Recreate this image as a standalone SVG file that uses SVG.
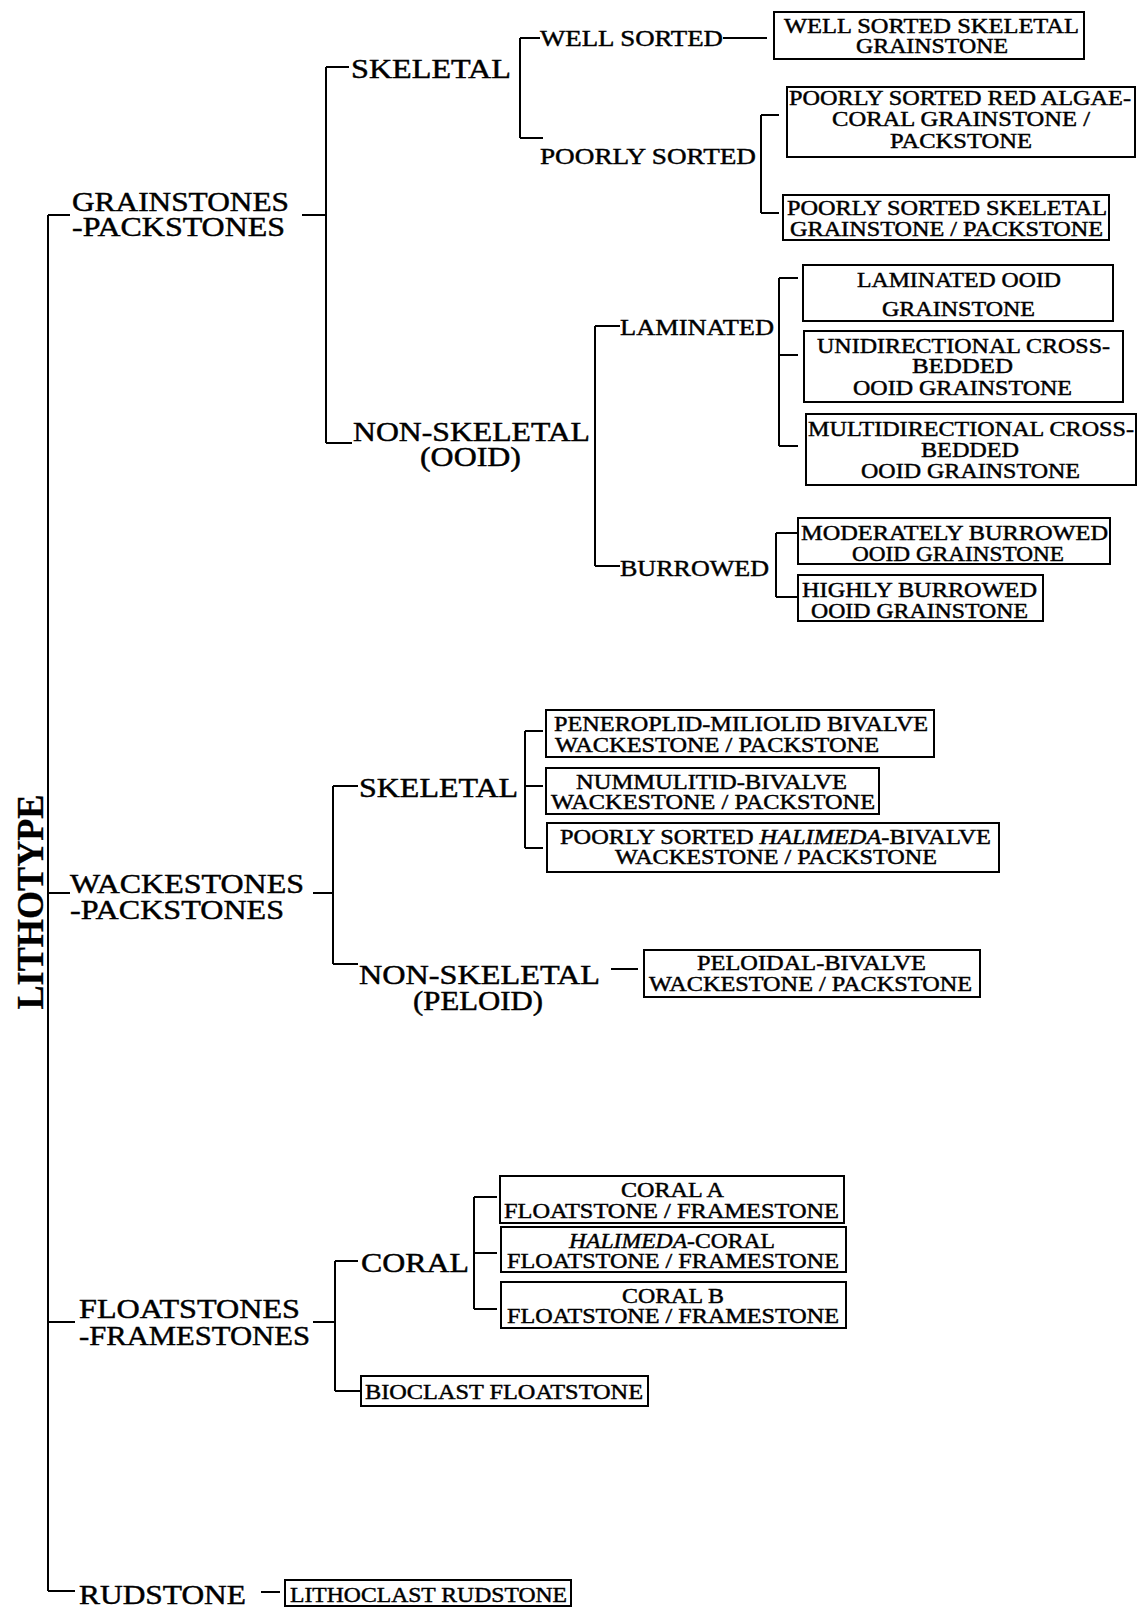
<svg xmlns="http://www.w3.org/2000/svg" width="1138" height="1608" viewBox="0 0 1138 1608">
<style>
text{font-family:"Liberation Serif","Times New Roman",serif;fill:#000;stroke:#000;stroke-width:0.45}
.big{font-size:27px}
.mid{font-size:24px}
.box{font-size:21px}
.title{font-size:38px;font-weight:bold;stroke-width:0.3}
.bx{fill:none;stroke:#000;stroke-width:2}
.ln{fill:none;stroke:#000;stroke-width:2}
</style>
<rect width="1138" height="1608" fill="#fff"/>
<g id="connectors" class="ln">
<path d="M48,215 V1591 M48,215 H70 M48,893 H70 M48,1322 H75 M48,1591 H75"/>
<path d="M302,215 H326 M326,67 V443 M326,67 H349 M326,443 H352"/>
<path d="M520,38 V138 M520,38 H540 M520,138 H543 M723,38 H767"/>
<path d="M761,115 V213 M761,115 H779 M761,213 H779"/>
<path d="M595,326 V566 M595,326 H620 M595,566 H620"/>
<path d="M779,278 V446 M779,278 H798 M779,355 H798 M779,446 H798"/>
<path d="M776,533 V597 M776,533 H798 M776,597 H798"/>
<path d="M313,893 H333 M333,786 V964 M333,786 H358 M333,964 H358"/>
<path d="M525,731 V848 M525,731 H543 M525,786 H543 M525,848 H543"/>
<path d="M611,969 H638"/>
<path d="M313,1322 H335 M335,1261 V1391 M335,1261 H358 M335,1391 H361"/>
<path d="M474,1197 V1309 M474,1197 H497 M474,1253 H497 M474,1309 H497"/>
<path d="M261,1592 H280"/>
</g>
<g id="lithotype"><text class="title" transform="translate(43,902) rotate(-90)" text-anchor="middle" textLength="215" lengthAdjust="spacingAndGlyphs">LITHOTYPE</text></g>
<g id="grainstones-packstones">
<text class="big" x="72" y="211" textLength="217" lengthAdjust="spacingAndGlyphs">GRAINSTONES</text>
<text class="big" x="72" y="236" textLength="213" lengthAdjust="spacingAndGlyphs">-PACKSTONES</text>
</g>
<g id="gp-skeletal"><text class="big" x="351" y="78" textLength="160" lengthAdjust="spacingAndGlyphs">SKELETAL</text></g>
<g id="gp-nonskeletal">
<text class="big" x="353" y="441" textLength="237" lengthAdjust="spacingAndGlyphs">NON-SKELETAL</text>
<text class="big" x="420" y="466" textLength="101" lengthAdjust="spacingAndGlyphs">(OOID)</text>
</g>
<g id="well-sorted"><text class="mid" x="540" y="46" textLength="183" lengthAdjust="spacingAndGlyphs">WELL SORTED</text></g>
<g id="poorly-sorted"><text class="mid" x="540" y="164" textLength="216" lengthAdjust="spacingAndGlyphs">POORLY SORTED</text></g>
<g id="laminated"><text class="mid" x="620" y="335" textLength="154" lengthAdjust="spacingAndGlyphs">LAMINATED</text></g>
<g id="burrowed"><text class="mid" x="620" y="576" textLength="149" lengthAdjust="spacingAndGlyphs">BURROWED</text></g>
<g id="box-well-sorted-skeletal">
<rect class="bx" x="774" y="12" width="310" height="47"/>
<text class="box" x="784" y="33" textLength="295" lengthAdjust="spacingAndGlyphs">WELL SORTED SKELETAL</text>
<text class="box" x="856" y="53" textLength="152" lengthAdjust="spacingAndGlyphs">GRAINSTONE</text>
</g>
<g id="box-red-algae-coral">
<rect class="bx" x="787" y="87" width="348" height="70"/>
<text class="box" x="789" y="105" textLength="342" lengthAdjust="spacingAndGlyphs">POORLY SORTED RED ALGAE-</text>
<text class="box" x="832" y="126" textLength="258" lengthAdjust="spacingAndGlyphs">CORAL GRAINSTONE /</text>
<text class="box" x="890" y="148" textLength="142" lengthAdjust="spacingAndGlyphs">PACKSTONE</text>
</g>
<g id="box-poorly-sorted-skeletal">
<rect class="bx" x="783" y="195" width="326" height="45"/>
<text class="box" x="787" y="215" textLength="320" lengthAdjust="spacingAndGlyphs">POORLY SORTED SKELETAL</text>
<text class="box" x="790" y="236" textLength="313" lengthAdjust="spacingAndGlyphs">GRAINSTONE / PACKSTONE</text>
</g>
<g id="box-laminated-ooid">
<rect class="bx" x="803" y="265" width="310" height="56"/>
<text class="box" x="857" y="287" textLength="204" lengthAdjust="spacingAndGlyphs">LAMINATED OOID</text>
<text class="box" x="882" y="316" textLength="153" lengthAdjust="spacingAndGlyphs">GRAINSTONE</text>
</g>
<g id="box-unidirectional">
<rect class="bx" x="804" y="331" width="319" height="71"/>
<text class="box" x="817" y="353" textLength="293" lengthAdjust="spacingAndGlyphs">UNIDIRECTIONAL CROSS-</text>
<text class="box" x="912" y="373" textLength="101" lengthAdjust="spacingAndGlyphs">BEDDED</text>
<text class="box" x="853" y="395" textLength="219" lengthAdjust="spacingAndGlyphs">OOID GRAINSTONE</text>
</g>
<g id="box-multidirectional">
<rect class="bx" x="806" y="414" width="330" height="71"/>
<text class="box" x="808" y="436" textLength="326" lengthAdjust="spacingAndGlyphs">MULTIDIRECTIONAL CROSS-</text>
<text class="box" x="921" y="457" textLength="98" lengthAdjust="spacingAndGlyphs">BEDDED</text>
<text class="box" x="861" y="478" textLength="219" lengthAdjust="spacingAndGlyphs">OOID GRAINSTONE</text>
</g>
<g id="box-moderately-burrowed">
<rect class="bx" x="798" y="518" width="312" height="46"/>
<text class="box" x="801" y="540" textLength="307" lengthAdjust="spacingAndGlyphs">MODERATELY BURROWED</text>
<text class="box" x="852" y="561" textLength="212" lengthAdjust="spacingAndGlyphs">OOID GRAINSTONE</text>
</g>
<g id="box-highly-burrowed">
<rect class="bx" x="798" y="575" width="245" height="46"/>
<text class="box" x="802" y="597" textLength="235" lengthAdjust="spacingAndGlyphs">HIGHLY BURROWED</text>
<text class="box" x="811" y="618" textLength="217" lengthAdjust="spacingAndGlyphs">OOID GRAINSTONE</text>
</g>
<g id="wackestones-packstones">
<text class="big" x="70" y="893" textLength="234" lengthAdjust="spacingAndGlyphs">WACKESTONES</text>
<text class="big" x="70" y="919" textLength="214" lengthAdjust="spacingAndGlyphs">-PACKSTONES</text>
</g>
<g id="wp-skeletal"><text class="big" x="359" y="797" textLength="159" lengthAdjust="spacingAndGlyphs">SKELETAL</text></g>
<g id="wp-nonskeletal">
<text class="big" x="359" y="984" textLength="241" lengthAdjust="spacingAndGlyphs">NON-SKELETAL</text>
<text class="big" x="413" y="1010" textLength="130" lengthAdjust="spacingAndGlyphs">(PELOID)</text>
</g>
<g id="box-peneroplid">
<rect class="bx" x="546" y="710" width="388" height="47"/>
<text class="box" x="554" y="731" textLength="374" lengthAdjust="spacingAndGlyphs">PENEROPLID-MILIOLID BIVALVE</text>
<text class="box" x="555" y="752" textLength="324" lengthAdjust="spacingAndGlyphs">WACKESTONE / PACKSTONE</text>
</g>
<g id="box-nummulitid">
<rect class="bx" x="546" y="768" width="333" height="46"/>
<text class="box" x="576" y="789" textLength="271" lengthAdjust="spacingAndGlyphs">NUMMULITID-BIVALVE</text>
<text class="box" x="551" y="809" textLength="324" lengthAdjust="spacingAndGlyphs">WACKESTONE / PACKSTONE</text>
</g>
<g id="box-halimeda-bivalve">
<rect class="bx" x="547" y="823" width="452" height="49"/>
<text class="box" x="560" y="844" textLength="431" lengthAdjust="spacingAndGlyphs">POORLY SORTED <tspan font-style="italic">HALIMEDA</tspan>-BIVALVE</text>
<text class="box" x="615" y="864" textLength="322" lengthAdjust="spacingAndGlyphs">WACKESTONE / PACKSTONE</text>
</g>
<g id="box-peloidal">
<rect class="bx" x="644" y="950" width="336" height="47"/>
<text class="box" x="697" y="970" textLength="229" lengthAdjust="spacingAndGlyphs">PELOIDAL-BIVALVE</text>
<text class="box" x="649" y="991" textLength="323" lengthAdjust="spacingAndGlyphs">WACKESTONE / PACKSTONE</text>
</g>
<g id="floatstones-framestones">
<text class="big" x="79" y="1318" textLength="221" lengthAdjust="spacingAndGlyphs">FLOATSTONES</text>
<text class="big" x="79" y="1345" textLength="231" lengthAdjust="spacingAndGlyphs">-FRAMESTONES</text>
</g>
<g id="ff-coral"><text class="big" x="361" y="1272" textLength="108" lengthAdjust="spacingAndGlyphs">CORAL</text></g>
<g id="box-bioclast">
<rect class="bx" x="361" y="1376" width="287" height="30"/>
<text class="box" x="365" y="1399" textLength="278" lengthAdjust="spacingAndGlyphs">BIOCLAST FLOATSTONE</text>
</g>
<g id="box-coral-a">
<rect class="bx" x="500" y="1176" width="344" height="47"/>
<text class="box" x="621" y="1197" textLength="103" lengthAdjust="spacingAndGlyphs">CORAL A</text>
<text class="box" x="504" y="1218" textLength="335" lengthAdjust="spacingAndGlyphs">FLOATSTONE / FRAMESTONE</text>
</g>
<g id="box-halimeda-coral">
<rect class="bx" x="501" y="1227" width="345" height="45"/>
<text class="box" x="569" y="1248" textLength="206" lengthAdjust="spacingAndGlyphs"><tspan font-style="italic">HALIMEDA</tspan>-CORAL</text>
<text class="box" x="507" y="1268" textLength="332" lengthAdjust="spacingAndGlyphs">FLOATSTONE / FRAMESTONE</text>
</g>
<g id="box-coral-b">
<rect class="bx" x="501" y="1282" width="345" height="46"/>
<text class="box" x="622" y="1303" textLength="102" lengthAdjust="spacingAndGlyphs">CORAL B</text>
<text class="box" x="507" y="1323" textLength="332" lengthAdjust="spacingAndGlyphs">FLOATSTONE / FRAMESTONE</text>
</g>
<g id="rudstone"><text class="big" x="79" y="1604" textLength="167" lengthAdjust="spacingAndGlyphs">RUDSTONE</text></g>
<g id="box-lithoclast">
<rect class="bx" x="285" y="1580" width="286" height="26"/>
<text class="box" x="290" y="1602" textLength="277" lengthAdjust="spacingAndGlyphs">LITHOCLAST RUDSTONE</text>
</g>
</svg>
